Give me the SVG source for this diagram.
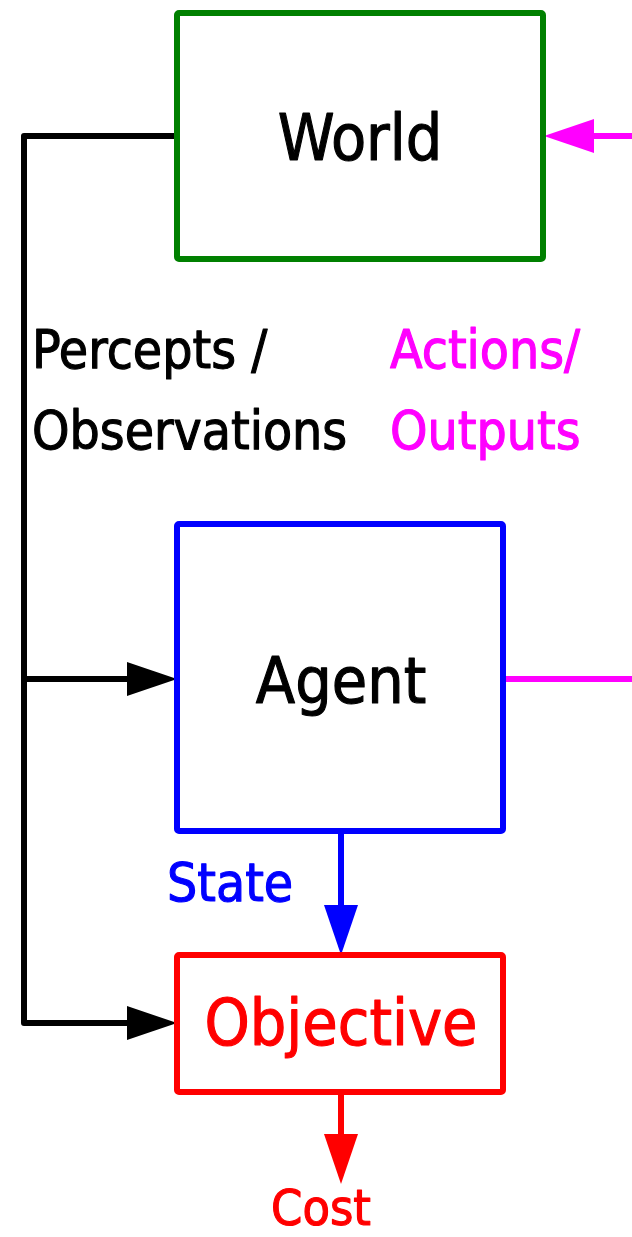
<svg xmlns="http://www.w3.org/2000/svg" width="632" height="1237" viewBox="0 0 632 1237">
  <style>
    .box { fill: #ffffff; stroke-width: 6; stroke-linejoin: round; }
    .wire { fill: none; stroke-width: 6; stroke-linejoin: round; }
    text { font-family: "DejaVu Sans Condensed", "DejaVu Sans", sans-serif; font-stretch: condensed; stroke-width: 1.1; stroke-linejoin: round; }
    .big { font-size: 64px; }
    .lbl { font-size: 53px; }
  </style>
  <defs>
    <marker id="arrow-black" viewBox="0 0 50 34" refX="0" refY="17" markerWidth="50" markerHeight="34" markerUnits="userSpaceOnUse" orient="auto">
      <path d="M0,0 L50,17 L0,34 Z" fill="#000000"/>
    </marker>
    <marker id="arrow-magenta" viewBox="0 0 50 34" refX="0" refY="17" markerWidth="50" markerHeight="34" markerUnits="userSpaceOnUse" orient="auto">
      <path d="M0,0 L50,17 L0,34 Z" fill="#ff00ff"/>
    </marker>
    <marker id="arrow-blue" viewBox="0 0 50 34" refX="0" refY="17" markerWidth="50" markerHeight="34" markerUnits="userSpaceOnUse" orient="auto">
      <path d="M0,0 L50,17 L0,34 Z" fill="#0000ff"/>
    </marker>
    <marker id="arrow-red" viewBox="0 0 50 34" refX="0" refY="17" markerWidth="50" markerHeight="34" markerUnits="userSpaceOnUse" orient="auto">
      <path d="M0,0 L50,17 L0,34 Z" fill="#ff0000"/>
    </marker>
  </defs>

  <!-- connectors -->
  <g id="connectors">
    <path class="wire" stroke="#000000" d="M177,136 H24 V1023 H127" marker-end="url(#arrow-black)"/>
    <path class="wire" stroke="#000000" d="M24,679 H127" marker-end="url(#arrow-black)"/>
    <path class="wire" stroke="#ff00ff" d="M632,136 H594" marker-end="url(#arrow-magenta)"/>
    <path class="wire" stroke="#ff00ff" d="M503,679 H632"/>
    <path class="wire" stroke="#0000ff" d="M341,831 V905" marker-end="url(#arrow-blue)"/>
    <path class="wire" stroke="#ff0000" d="M341,1092 V1134" marker-end="url(#arrow-red)"/>
  </g>

  <!-- connector labels -->
  <g id="labels" class="lbl">
    <text x="32" y="368" fill="#000000" stroke="#000000">Percepts /</text>
    <text x="32" y="449" fill="#000000" stroke="#000000">Observations</text>
    <text x="390" y="368" fill="#ff00ff" stroke="#ff00ff">Actions/</text>
    <text x="390" y="449" fill="#ff00ff" stroke="#ff00ff">Outputs</text>
    <text x="167" y="901" fill="#0000ff" stroke="#0000ff">State</text>
    <text x="321" y="1225" fill="#ff0000" stroke="#ff0000" text-anchor="middle" font-size="50">Cost</text>
  </g>

  <g id="world">
    <rect class="box" x="177" y="13" width="366" height="246" rx="2" stroke="#008000"/>
    <text class="big" x="360" y="160" text-anchor="middle" fill="#000000" stroke="#000000">World</text>
  </g>

  <g id="agent">
    <rect class="box" x="177" y="524" width="326" height="307" rx="2" stroke="#0000ff"/>
    <text class="big" x="341" y="703" text-anchor="middle" fill="#000000" stroke="#000000">Agent</text>
  </g>

  <g id="objective">
    <rect class="box" x="177" y="955" width="326" height="137" rx="2" stroke="#ff0000"/>
    <text class="big" x="341" y="1045" text-anchor="middle" fill="#ff0000" stroke="#ff0000">Objective</text>
  </g>
</svg>
